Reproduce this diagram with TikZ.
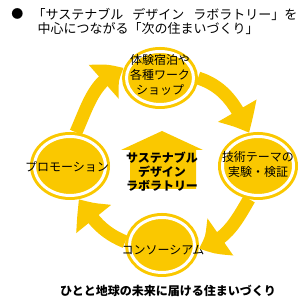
\documentclass[tikz,border=0pt]{standalone}
\usepackage{fontspec}
\newfontfamily\jpfont{Noto Sans CJK JP}
\usetikzlibrary{arrows.meta,shapes.geometric,bending}
\definecolor{sun}{RGB}{250,200,0}

\begin{document}
\begin{tikzpicture}[x=1pt, y=1pt,
  ringnode/.style={ellipse, fill=sun, draw=sun, double=white, double distance=3pt, line width=3pt, inner sep=0pt, outer sep=4.5pt},
  ringtext/.style={font=\jpfont\fontsize{12}{15}\selectfont, align=center, inner sep=0pt},
  cyclearrow/.style={draw=sun, line width=13pt, -{Triangle[width=42pt, length=26pt, bend]}}
]
\useasboundingbox (0,0) rectangle (306,304);

% title
\node[font=\jpfont\fontsize{12}{15}\selectfont] (bullet) at (17.5,290.5) {●};
\node[font=\jpfont\fontsize{13}{15}\selectfont, anchor=west] (title1) at (29,290) {「サステナブル\hspace{9pt}デザイン\hspace{9pt}ラボラトリー」を};
\node[font=\jpfont\fontsize{13}{15}\selectfont, anchor=west] (title2) at (34,275) {中心につながる「次の住まいづくり」};

% four stages
\node[ringnode, minimum width=67, minimum height=53,
  label={[ringtext, yshift=3.5]center:体験宿泊や\\各種ワーク\\ショップ}] (taiken) at (160,226) {};
\node[ringnode, minimum width=71, minimum height=59,
  label={[ringtext, yshift=2]center:技術テーマの\\実験・検証}] (gijutsu) at (258,138) {};
\node[ringnode, minimum width=65, minimum height=55,
  label={[ringtext, yshift=-5, xshift=1]center:コンソーシアム}] (consortium) at (162,59) {};
\node[ringnode, minimum width=71, minimum height=59,
  label={[ringtext, yshift=-1, xshift=-3]center:プロモーション}] (promotion) at (70,138) {};

% house in the middle
\fill[sun] (121,154) -- (162,173) -- (203,154) -- (196,154) -- (196,115)
  -- (130,115) -- (130,154) -- cycle;
\node[font=\jpfont\bfseries\fontsize{12}{14}\selectfont, align=center] (lab) at (162,132) {サステナブル\\デザイン\\ラボラトリー};

% cycle
\draw[cyclearrow] (taiken.east) to[out=-18, in=116] (gijutsu.105);
\draw[cyclearrow] (gijutsu.-105) to[out=-120, in=15] (consortium.-5);
\draw[cyclearrow] (consortium.175) to[out=158, in=-56] (promotion.-75);
\draw[cyclearrow] (promotion.80) to[out=66, in=200] (taiken.165);

\node[font=\jpfont\bfseries\fontsize{12}{14}\selectfont] (motto) at (168,13) {ひとと地球の未来に届ける住まいづくり};
\end{tikzpicture}
\end{document}
